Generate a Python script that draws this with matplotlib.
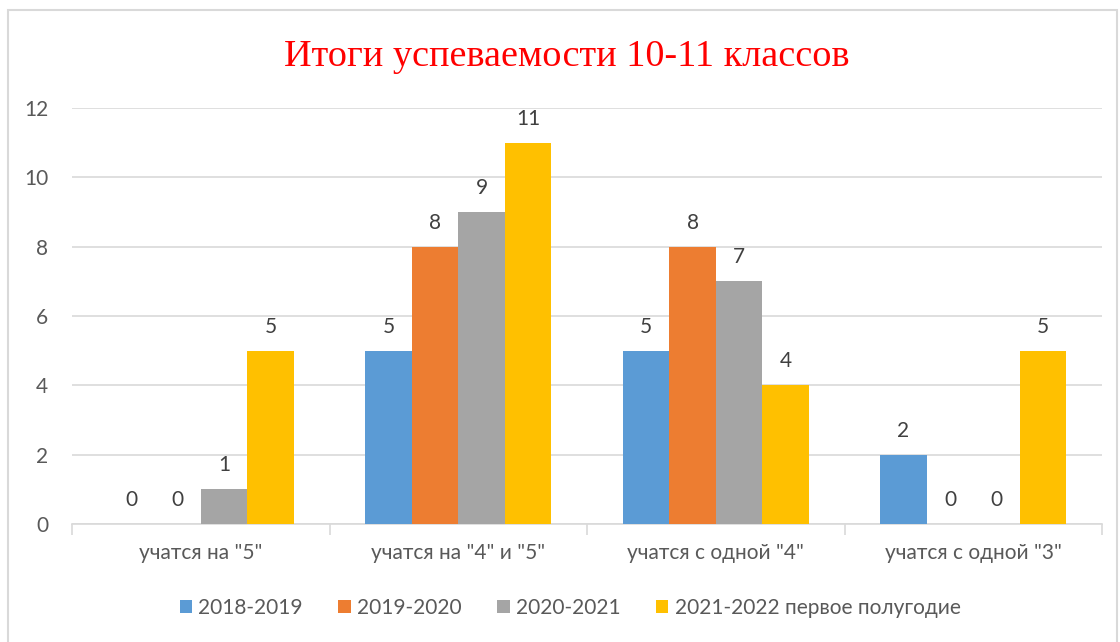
import numpy as np
import matplotlib.pyplot as plt
from matplotlib.patches import Rectangle

# Данные
categories = ['учатся на "5"', 'учатся на "4" и "5"', 'учатся с одной "4"', 'учатся с одной "3"']
series_names = ['2018-2019', '2019-2020', '2020-2021', '2021-2022 первое полугодие']
v_2018 = [0, 5, 5, 2]
v_2019 = [0, 8, 8, 0]
v_2020 = [1, 9, 7, 0]
v_2021 = [5, 11, 4, 5]
colors = ['#5B9BD5', '#ED7D31', '#A5A5A5', '#FFC000']

plt.rcParams['font.family'] = ['Lato', 'DejaVu Sans']

fig = plt.figure(figsize=(11.2, 6.42), dpi=100)
ax = fig.add_axes([0.0643, 0.1838, 0.9197, 0.648])

# рамка вокруг диаграммы
fig.patches.append(Rectangle((0.007, -0.05), 0.990, 1.034, transform=fig.transFigure,
                             fill=False, edgecolor='#d9d9d9', linewidth=1.5))

x = np.arange(len(categories))
w = 0.1806
all_vals = [v_2018, v_2019, v_2020, v_2021]
for i, (vals, name, c) in enumerate(zip(all_vals, series_names, colors)):
    pos = x + (i - 1.5) * w
    ax.bar(pos, vals, width=w, color=c, label=name, zorder=3)
    for px, v in zip(pos, vals):
        ax.annotate(str(v), (px, v), xytext=(0, 10), textcoords='offset points',
                    ha='center', va='bottom', fontsize=15, color='#404040')

ax.set_xlim(-0.5, 3.5)
ax.set_ylim(0, 12)
ax.set_yticks(range(0, 13, 2))
ax.yaxis.grid(True, color='#d9d9d9', linewidth=1.2, zorder=0)
for s in ['top', 'right', 'left']:
    ax.spines[s].set_visible(False)
ax.spines['bottom'].set_color('#d9d9d9')
ax.spines['bottom'].set_linewidth(1.2)
ax.tick_params(axis='y', length=0, labelsize=15, labelcolor='#595959', pad=17)

# подписи категорий и засечки между категориями
ax.set_xticks(x)
ax.set_xticklabels(categories)
ax.tick_params(axis='x', length=0, labelsize=15, labelcolor='#595959', pad=14)
ax.set_xticks(np.arange(-0.5, 4.0, 1.0), minor=True)
ax.tick_params(axis='x', which='minor', length=8, color='#d9d9d9', width=1.2)

fig.text(0.506, 0.912, 'Итоги успеваемости 10-11 классов', ha='center', va='center',
         fontsize=27.5, color='#FF0000', family='Liberation Serif')

fig.legend(loc='center', bbox_to_anchor=(0.509, 0.053), ncol=4, frameon=False,
           fontsize=15, labelcolor='#595959', handlelength=0.6, handleheight=0.6,
           handletextpad=0.3, columnspacing=1.7)

fig.savefig('out.png', dpi=100)
